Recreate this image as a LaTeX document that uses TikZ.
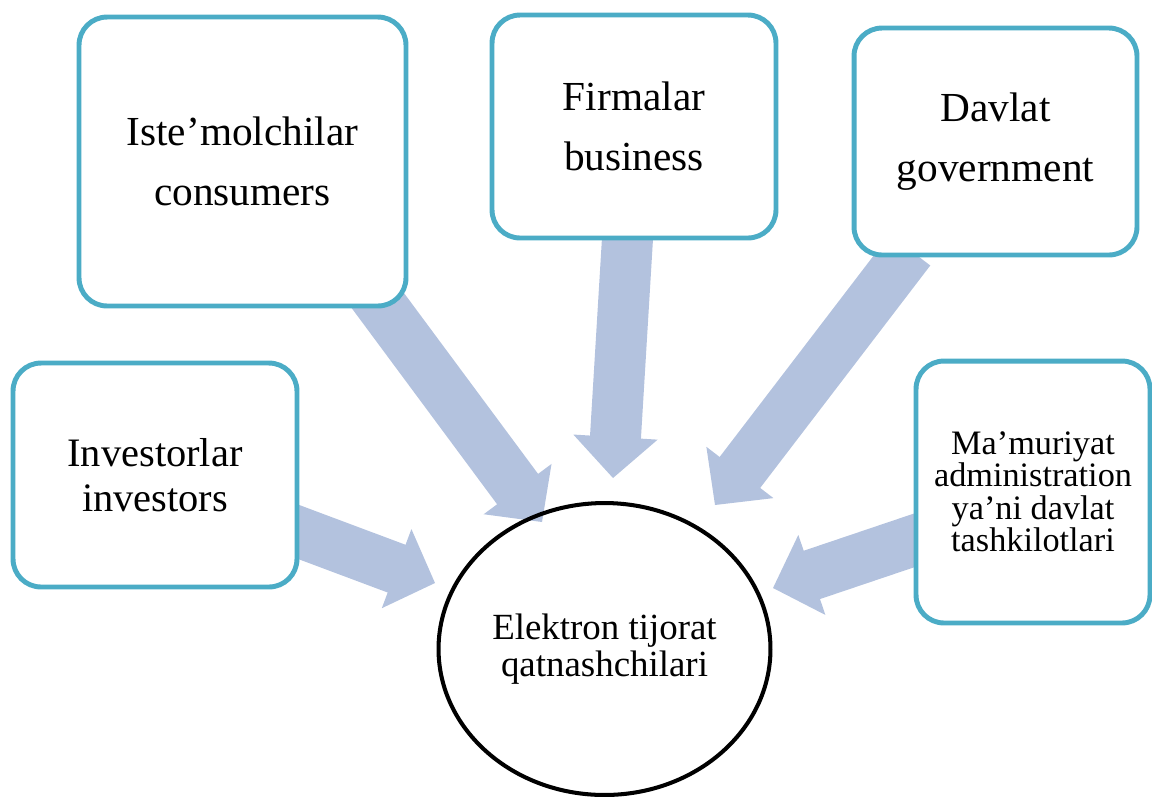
\documentclass[tikz,border=0pt]{standalone}
\usepackage{fontspec}
\setmainfont{Liberation Serif}
\usetikzlibrary{arrows.meta,shapes.geometric,backgrounds}
\definecolor{boxline}{HTML}{4BACC6}
\definecolor{flow}{HTML}{B3C2DE}

\begin{document}
\begin{tikzpicture}[x=0.02cm,y=-0.02cm,
  party/.style={draw=boxline, line width=2.8pt, rounded corners=0.56cm,
    fill=white, align=center, inner sep=0pt},
  bigtxt/.style={font=\fontsize{23.5}{34}\selectfont},
  flowarrow/.style={draw=flow, line width=1.02cm,
    -{Triangle[length=0.82cm,width=1.68cm,line width=1.5pt]}},
]
\useasboundingbox (0,0) rectangle (1152,796);

% participant boxes
\node[party, bigtxt, minimum width=6.54cm, minimum height=5.78cm]
  (cons) at (242.5,161.5) {Iste’molchilar\\consumers};
\node[party, bigtxt, minimum width=5.68cm, minimum height=4.46cm]
  (firm) at (634,126.5) {Firmalar\\business};
\node[party, bigtxt, minimum width=5.66cm, minimum height=4.54cm]
  (davl) at (995.5,141.5) {Davlat\\government};
\node[party, font=\fontsize{23}{25.5}\selectfont,
  minimum width=5.68cm, minimum height=4.48cm]
  (inv) at (155,475) {Investorlar\\investors};
\node[party, font={\fontsize{19.5}{18.5}\selectfont\lineskiplimit=-8pt\relax},
  minimum width=4.68cm, minimum height=5.24cm]
  (mam) at (1033,492) {Ma’muriyat\\administration\\ya’ni davlat\\tashkilotlari};

% central participant
\node[draw, ellipse, line width=2.3pt, inner sep=0pt,
  minimum width=6.64cm, minimum height=5.84cm, align=center,
  font=\fontsize{21}{21}\selectfont]
  (hub) at (604.5,649) {Elektron tijorat\\qatnashchilari};

% arrow ends
\coordinate (i0) at (280,525);  \coordinate (i1) at (435,583);
\coordinate (c0) at (370,290);  \coordinate (c1) at (542,522);
\coordinate (f0) at (628,230);  \coordinate (f1) at (613,478);
\coordinate (d0) at (910,250);  \coordinate (d1) at (715,505);
\coordinate (m0) at (930,535);  \coordinate (m1) at (773,588);

\begin{scope}[on background layer]
  \draw[flowarrow] (i0) -- (i1);
  \draw[flowarrow] (c0) -- (c1);
  \draw[flowarrow] (f0) -- (f1);
  \draw[flowarrow] (d0) -- (d1);
  \draw[flowarrow] (m0) -- (m1);
\end{scope}
\end{tikzpicture}
\end{document}
